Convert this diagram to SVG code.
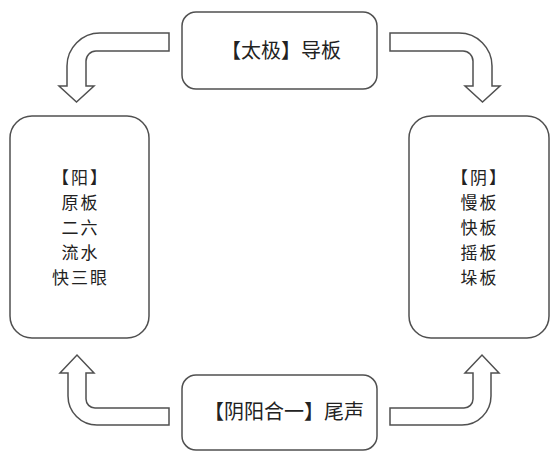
<svg xmlns="http://www.w3.org/2000/svg" width="554" height="457" viewBox="0 0 554 457">
<style>
.box{fill:#fff;stroke:#505050;stroke-width:1.5}
.arrow{fill:#fff;stroke:#505050;stroke-width:1.5;stroke-linejoin:miter}
text{font-family:"Noto Sans CJK SC","Noto Sans CJK TC",sans-serif;font-size:20px;fill:#222;text-anchor:middle}
.side{font-size:17px;letter-spacing:2px}
</style>
<rect width="554" height="457" fill="#fff"/>
<g id="connectors">
<path class="arrow" d="M169,33 L100,33 A33,33 0 0 0 67,66 L67,86 L59,86 L76.5,102 L94,86 L86,86 L86,61 A10,10 0 0 1 96,51 L169,51 Z"/>
<path class="arrow" d="M390,33 L459,33 A33,33 0 0 1 492,66 L492,86 L500,86 L482.5,102 L465,86 L473,86 L473,61 A10,10 0 0 0 463,51 L390,51 Z"/>
<path class="arrow" d="M169,408 L95,408 A9,9 0 0 1 86,399 L86,373 L94,373 L77,355 L60,373 L68,373 L68,396 A29,29 0 0 0 97,425 L169,425 Z"/>
<path class="arrow" d="M390,408 L464,408 A9,9 0 0 0 473,399 L473,373 L465,373 L482,355 L499,373 L491,373 L491,396 A29,29 0 0 1 462,425 L390,425 Z"/>
</g>
<g id="top">
<rect class="box" x="182" y="12" width="195" height="77" rx="14"/>
<text x="281" y="57.5">【太极】导板</text>
</g>
<g id="left">
<rect class="box" x="10" y="116" width="139" height="222" rx="22"/>
<text class="side" x="80.5" y="183.5">【阳】</text>
<text class="side" x="80.5" y="208.5">原板</text>
<text class="side" x="80.5" y="233.5">二六</text>
<text class="side" x="80.5" y="258.5">流水</text>
<text class="side" x="80.5" y="283.5">快三眼</text>
</g>
<g id="right">
<rect class="box" x="409" y="116" width="140" height="222" rx="22"/>
<text class="side" x="479.5" y="184">【阴】</text>
<text class="side" x="479.5" y="209">慢板</text>
<text class="side" x="479.5" y="234">快板</text>
<text class="side" x="479.5" y="259">摇板</text>
<text class="side" x="479.5" y="284">垛板</text>
</g>
<g id="bottom">
<rect class="box" x="182" y="375" width="195" height="75" rx="14"/>
<text x="284" y="419">【阴阳合一】尾声</text>
</g>
</svg>
